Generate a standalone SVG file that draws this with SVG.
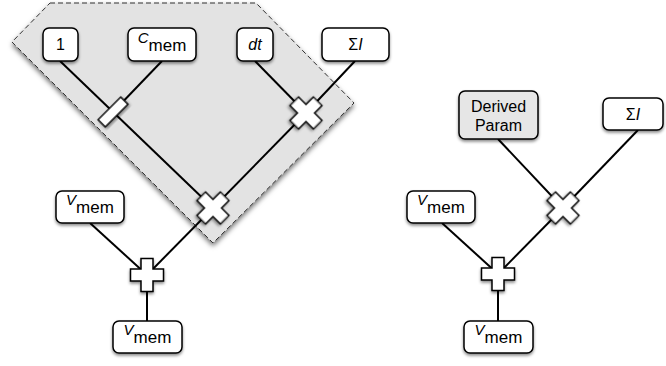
<svg xmlns="http://www.w3.org/2000/svg" width="666" height="366" viewBox="0 0 666 366">
  <defs>
    <filter id="shadow" x="-30%" y="-30%" width="160%" height="170%">
      <feDropShadow dx="0" dy="2" stdDeviation="1.8" flood-color="#000" flood-opacity="0.45"/>
    </filter>
    <filter id="regionShadow" x="-10%" y="-10%" width="120%" height="125%">
      <feDropShadow dx="0" dy="3" stdDeviation="2.5" flood-color="#000" flood-opacity="0.55"/>
    </filter>
    <path id="plus" d="M-6,-16.5 H6 V-6 H16.5 V6 H6 V16.5 H-6 V6 H-16.5 V-6 H-6 Z"/>
  </defs>
  <style>
    .box { fill: #fff; stroke: #000; stroke-width: 1.5; filter: url(#shadow); }
    .box.derived { fill: #e6e6e6; }
    .op { fill: #fff; stroke: #000; stroke-width: 1.5; stroke-linejoin: miter; filter: url(#shadow); }
    .region { fill: #e3e3e3; stroke: #333; stroke-width: 1; stroke-dasharray: 5 3; stroke-linejoin: round; filter: url(#regionShadow); }
    .wire { stroke: #000; stroke-width: 2; fill: none; }
    text { font-family: "Liberation Sans", Arial, sans-serif; font-size: 16px; fill: #000; text-anchor: middle; }
    .it { font-style: italic; }
    .sup { font-style: italic; font-size: 15px; }
    .sub { font-size: 17px; }
  </style>

  <!-- grouped sub-expression region -->
  <polygon class="region" points="50,3 256,3 354,103 213,243 12,42"/>

  <!-- connectors -->
  <g id="connectors">
    <line class="wire" x1="60" y1="61" x2="213" y2="208"/>
    <line class="wire" x1="162" y1="61" x2="113" y2="112"/>
    <line class="wire" x1="255" y1="61" x2="306" y2="113"/>
    <line class="wire" x1="355" y1="61" x2="306" y2="113"/>
    <line class="wire" x1="306" y1="113" x2="213" y2="208"/>
    <line class="wire" x1="90" y1="223" x2="147" y2="275"/>
    <line class="wire" x1="213" y1="208" x2="147" y2="275"/>
    <line class="wire" x1="147" y1="275" x2="147" y2="321"/>

    <line class="wire" x1="498" y1="139" x2="563" y2="208"/>
    <line class="wire" x1="638" y1="130" x2="563" y2="208"/>
    <line class="wire" x1="442" y1="223" x2="498" y2="274"/>
    <line class="wire" x1="563" y1="208" x2="498" y2="274"/>
    <line class="wire" x1="498" y1="274" x2="498" y2="321"/>
  </g>

  <!-- left expression: inputs -->
  <g id="one">
    <rect class="box" x="43" y="28" width="35" height="33" rx="6"/>
    <text x="60.5" y="50">1</text>
  </g>
  <g id="cmem">
    <rect class="box" x="128" y="28" width="68" height="33" rx="6"/>
    <text x="162" y="43"><tspan class="sup">C</tspan><tspan class="sub" dy="8">mem</tspan></text>
  </g>
  <g id="dt">
    <rect class="box" x="237" y="28" width="36" height="33" rx="6"/>
    <text class="it" x="255" y="50">dt</text>
  </g>
  <g id="sum-i">
    <rect class="box" x="322" y="28" width="67" height="33" rx="6"/>
    <text x="355.5" y="50">Σ<tspan class="it">I</tspan></text>
  </g>
  <g id="vmem-in">
    <rect class="box" x="56" y="191" width="68" height="32" rx="6"/>
    <text x="90" y="205"><tspan class="sup">V</tspan><tspan class="sub" dy="8">mem</tspan></text>
  </g>
  <g id="vmem-out">
    <rect class="box" x="113" y="321" width="69" height="32" rx="6"/>
    <text x="147.5" y="335"><tspan class="sup">V</tspan><tspan class="sub" dy="8">mem</tspan></text>
  </g>

  <!-- left expression: operators -->
  <g id="divide">
    <rect class="op" x="-16" y="-5" width="32" height="10" transform="translate(113,112) rotate(-45)"/>
  </g>
  <g id="mul-dt">
    <use href="#plus" class="op" transform="translate(306,113) rotate(45)"/>
  </g>
  <g id="mul-main">
    <use href="#plus" class="op" transform="translate(213,208) rotate(45)"/>
  </g>
  <g id="add-left">
    <use href="#plus" class="op" transform="translate(147,275)"/>
  </g>

  <!-- right expression -->
  <g id="derived-param">
    <rect class="box derived" x="459" y="91" width="79" height="48" rx="6"/>
    <text x="498.5" y="112">Derived</text>
    <text x="498.5" y="131">Param</text>
  </g>
  <g id="sum-i-right">
    <rect class="box" x="603" y="98" width="60" height="32" rx="6"/>
    <text x="633" y="120">Σ<tspan class="it">I</tspan></text>
  </g>
  <g id="vmem-in-right">
    <rect class="box" x="407" y="191" width="68" height="32" rx="6"/>
    <text x="441" y="205"><tspan class="sup">V</tspan><tspan class="sub" dy="8">mem</tspan></text>
  </g>
  <g id="vmem-out-right">
    <rect class="box" x="464" y="321" width="69" height="32" rx="6"/>
    <text x="498.5" y="335"><tspan class="sup">V</tspan><tspan class="sub" dy="8">mem</tspan></text>
  </g>
  <g id="mul-right">
    <use href="#plus" class="op" transform="translate(563,208) rotate(45)"/>
  </g>
  <g id="add-right">
    <use href="#plus" class="op" transform="translate(498,274)"/>
  </g>
</svg>
